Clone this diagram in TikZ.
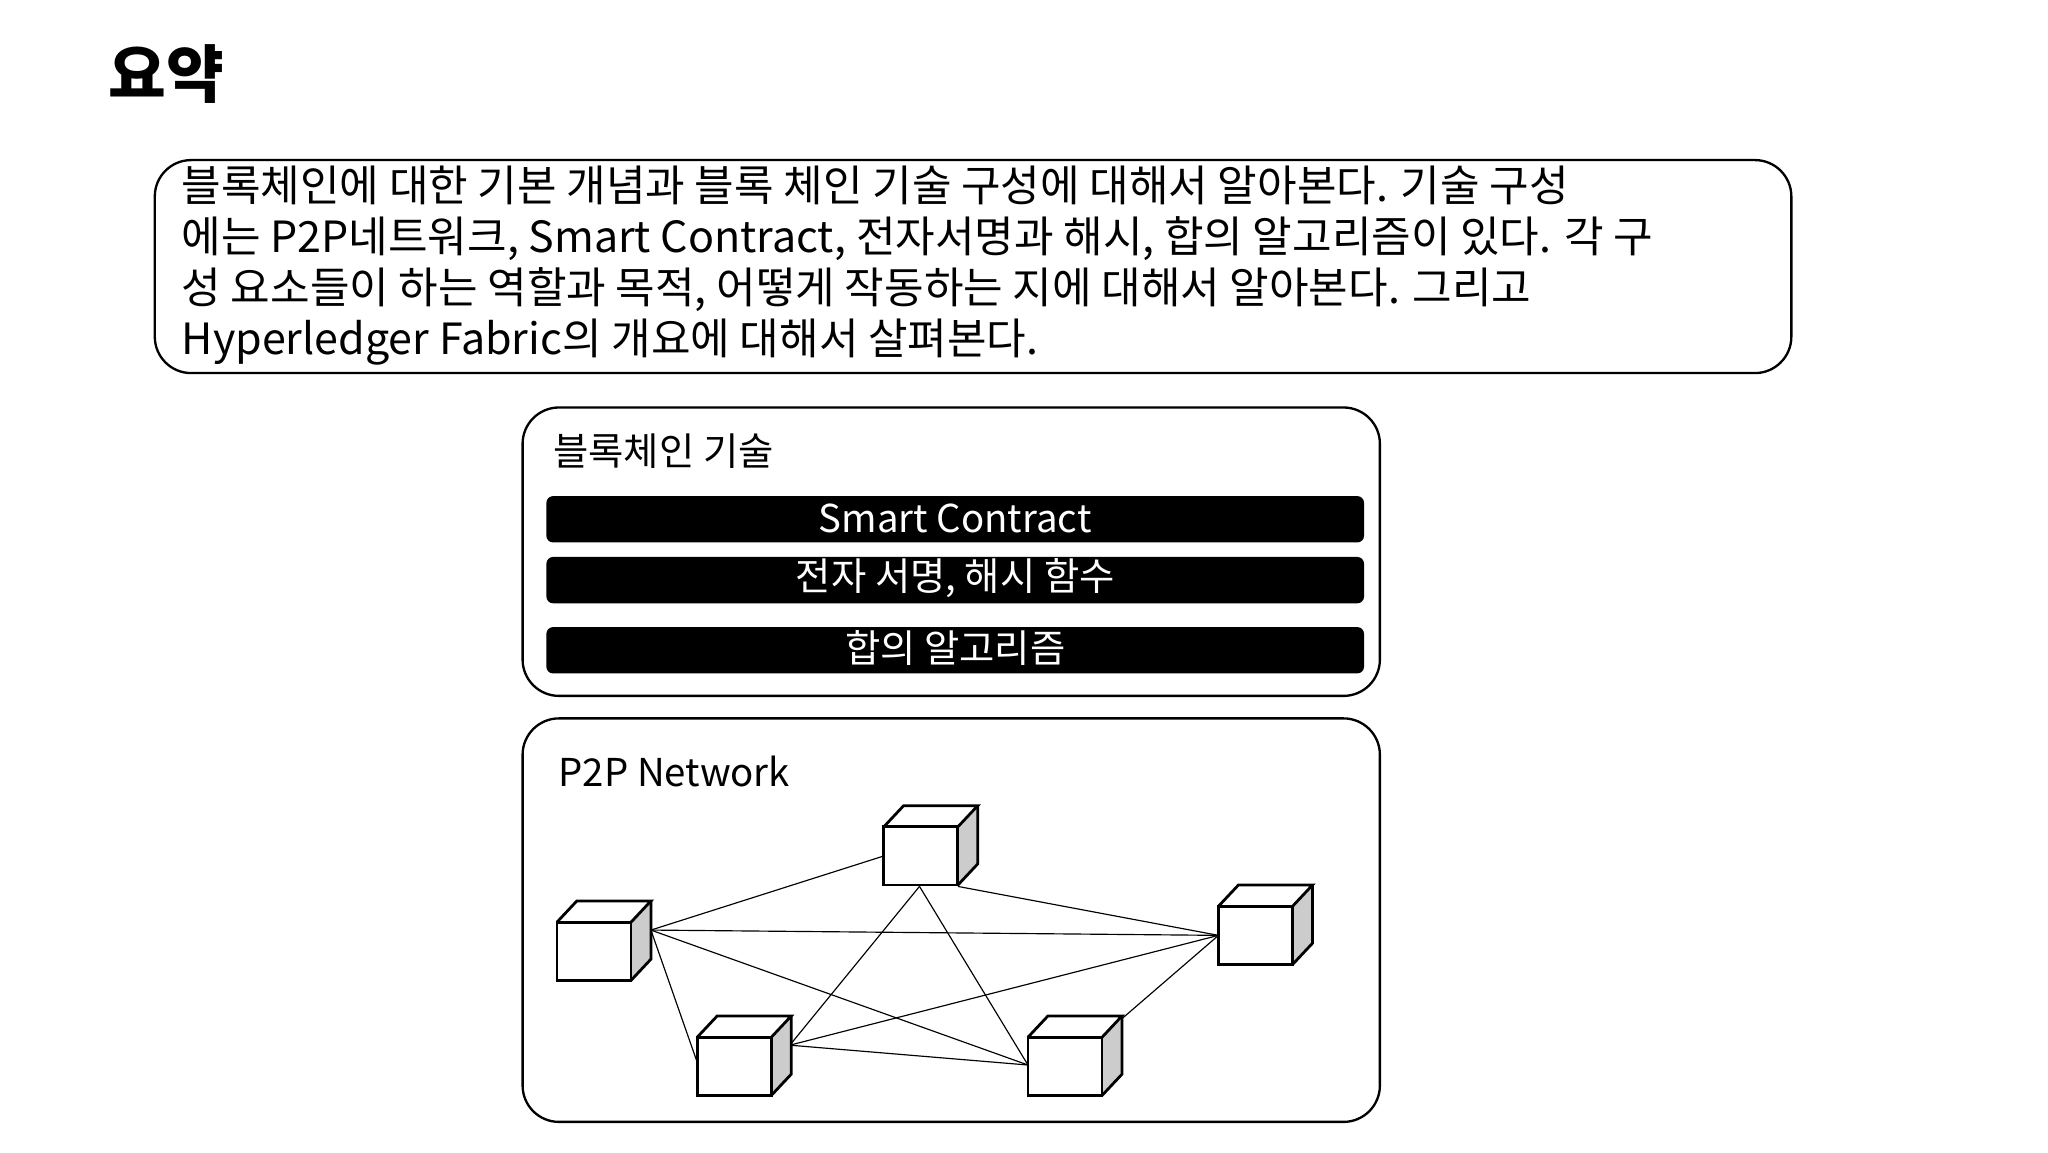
\documentclass[tikz,border=0pt]{standalone}
\usepackage{fontspec}
\setmainfont{Noto Sans CJK KR}
\begin{document}
\begin{tikzpicture}[x=0.02cm,y=-0.02cm,
  rbox/.style={draw,line width=1pt,rounded corners=0.55cm},
  bar/.style={fill=black,rounded corners=0.1cm},
  bartext/.style={text=white,font=\fontsize{16.5}{18}\selectfont},
  lbl/.style={anchor=west,font=\fontsize{16.5}{18}\selectfont},
  link/.style={line width=0.5pt}]
\useasboundingbox (0,0) rectangle (1548,871);
\node[anchor=west,font=\fontsize{27}{30}\selectfont\bfseries] (title) at (76,56) {요약};
\draw[rbox] (117,121) rectangle (1354,282);
\node[anchor=north west,align=left,inner sep=0,font=\fontsize{18.5}{22}\selectfont] (summary) at (137,125)
{블록체인에 대한 기본 개념과 블록 체인 기술 구성에 대해서 알아본다. 기술 구성\\
에는 P2P네트워크, Smart Contract, 전자서명과 해시, 합의 알고리즘이 있다. 각 구\\
성 요소들이 하는 역할과 목적, 어떻게 작동하는 지에 대해서 알아본다. 그리고\\
Hyperledger Fabric의 개요에 대해서 살펴본다.};
\draw[rbox] (395,308) rectangle (1043,526);
\node[lbl] (tech) at (412,341) {블록체인 기술};
\fill[bar] (413,375) rectangle (1031,410);
\node[bartext] (sc) at (722,392) {Smart Contract};
\fill[bar] (413,421) rectangle (1031,456);
\node[bartext] (sig) at (722,437) {전자 서명, 해시 함수};
\fill[bar] (413,474) rectangle (1031,509);
\node[bartext] (cons) at (722,490) {합의 알고리즘};
\draw[rbox] (395,543) rectangle (1043,848);
\node[lbl] (p2p) at (416,583) {P2P Network};
% cubes
\newcommand{\mycube}[3]{%
  \fill[gray!40] (#1+56,#2) -- (#1+71,#2-16) -- (#1+71,#2+28) -- (#1+56,#2+44) -- cycle;
  \draw[line width=1.2pt,fill=white] (#1,#2) rectangle (#1+56,#2+44);
  \draw[line width=1.2pt] (#1,#2) -- (#1+15,#2-16) -- (#1+71,#2-16) -- (#1+56,#2);
  \draw[line width=1.2pt] (#1+71,#2-16) -- (#1+71,#2+28) -- (#1+56,#2+44);
  \coordinate (#3) at (#1+28,#2+22);}
\coordinate (a) at (492,703);
\coordinate (bl) at (668,647);
\coordinate (bb) at (695,670);
\coordinate (br) at (724,670);
\coordinate (c) at (921,707);
\coordinate (dl) at (527,803);
\coordinate (d) at (597,790);
\coordinate (e) at (777,805);
\coordinate (er) at (848,770);
\draw[link] (a) -- (bl);
\draw[link] (a) -- (c);
\draw[link] (a) -- (e);
\draw[link] (a) -- (dl);
\draw[link] (bb) -- (d);
\draw[link] (bb) -- (e);
\draw[link] (br) -- (c);
\draw[link] (c) -- (d);
\draw[link] (c) -- (er);
\draw[link] (d) -- (e);
\mycube{421}{697}{cubeA}
\mycube{668}{625}{cubeB}
\mycube{921}{685}{cubeC}
\mycube{527}{784}{cubeD}
\mycube{777}{784}{cubeE}
\end{tikzpicture}
\end{document}
